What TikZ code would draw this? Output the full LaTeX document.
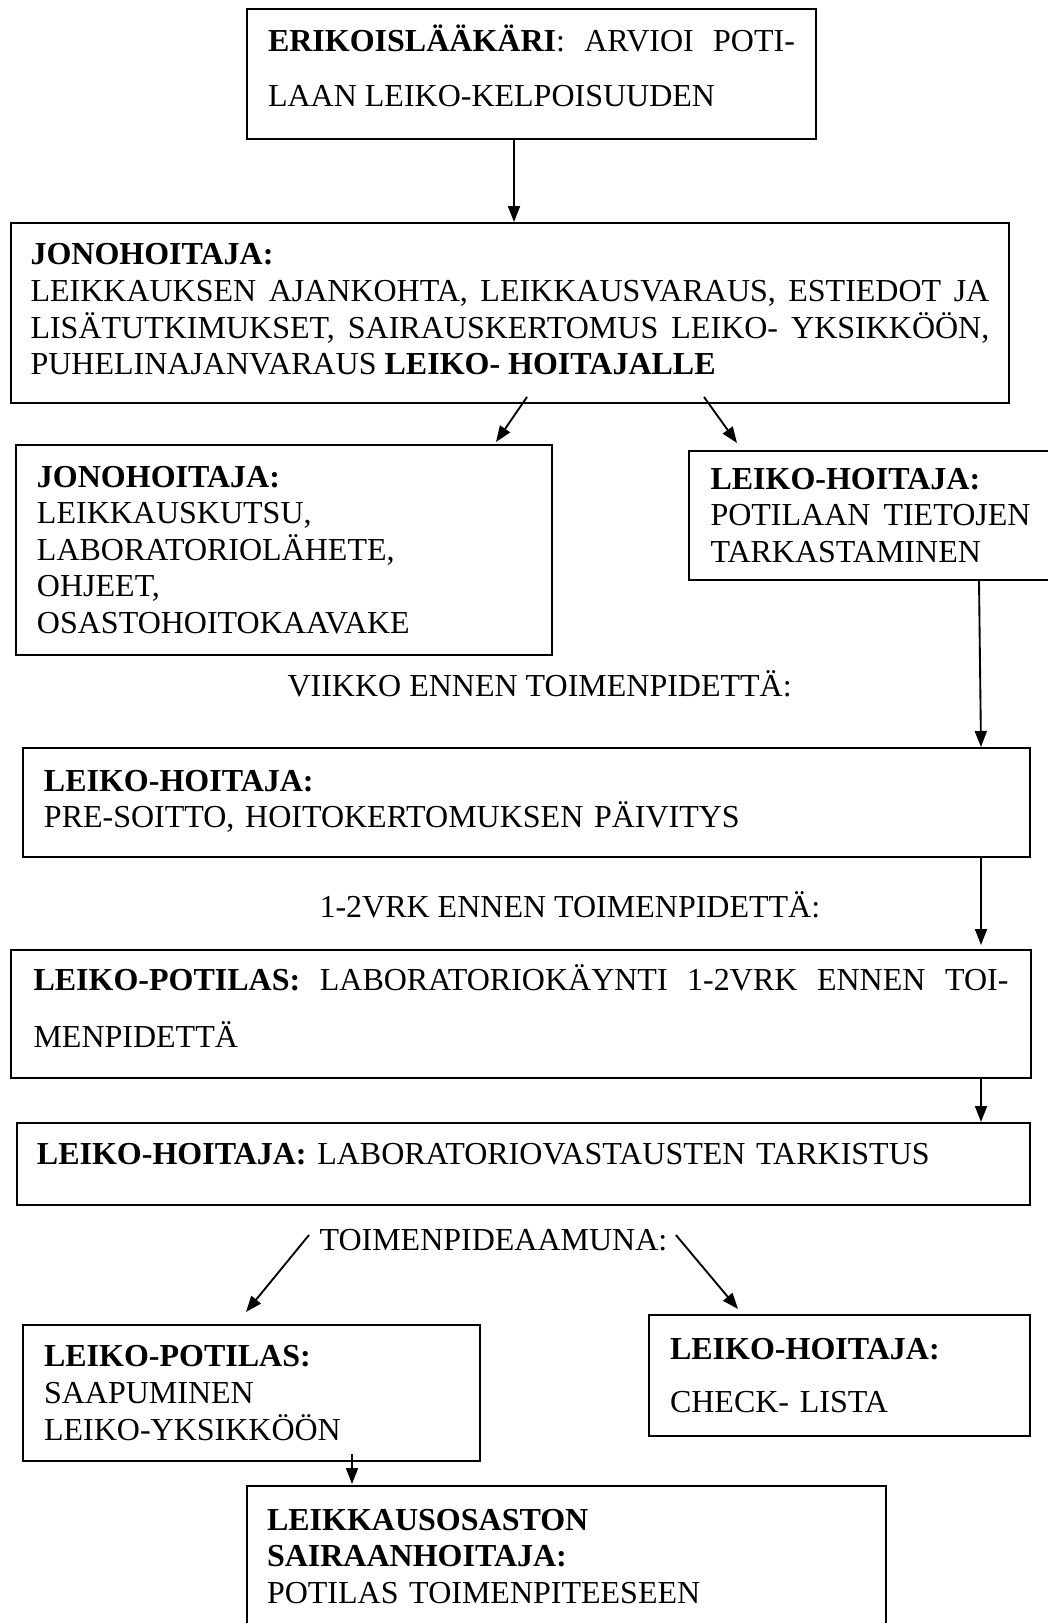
\documentclass[tikz,border=0pt]{standalone}
\usepackage{fontspec}
\setmainfont{Liberation Serif}
\usetikzlibrary{arrows.meta}
\newcommand\bdepth[1]{\rule[-#1]{0pt}{#1}}
\begin{document}
\begin{tikzpicture}[x=0.375pt,y=-0.375pt,
  box/.style 2 args={draw, line width=0.75pt, inner sep=0pt,
    minimum width=#1*0.375pt, minimum height=#2*0.375pt,
    font=\fontsize{12}{13.8}\selectfont},
  arr/.style={line width=0.7pt, -{Triangle[length=6pt,width=4.5pt]}},
  lbl/.style={inner sep=0pt, font=\fontsize{12}{13.8}\selectfont}]
\useasboundingbox (0,0) rectangle (1048,1623);
\clip (0,0) rectangle (1048,1623);

\node[box={569}{130}, text width=197.6pt, align=justify, font=\fontsize{12}{20.6}\selectfont] (b1) at (531.5,74)
  {\textbf{ERIKOISLÄÄKÄRI}: ARVIOI POTI-\linebreak LAAN LEIKO-KELPOISUUDEN\bdepth{6.5pt}};

\node[box={998}{180}, text width=359.6pt, align=justify, font=\fontsize{12}{13.75}\selectfont] (b2) at (510,313)
  {\textbf{JONOHOITAJA:}\\ LEIKKAUKSEN AJANKOHTA, LEIKKAUSVARAUS, ESTIEDOT JA\linebreak LISÄTUTKIMUKSET, SAIRAUSKERTOMUS LEIKO- YKSIKKÖÖN,\linebreak PUHELINAJANVARAUS \textbf{LEIKO- HOITAJALLE}\bdepth{2.9pt}};

\node[box={536}{210}, text width=185.25pt, align=left, font=\fontsize{12}{13.7}\selectfont] (b3) at (284,550)
  {\textbf{JONOHOITAJA:}\\ LEIKKAUSKUTSU,\\ LABORATORIOLÄHETE,\\ OHJEET,\\ OSASTOHOITOKAAVAKE};

\node[box={363}{129}, text width=120pt, align=justify, font=\fontsize{12}{13.7}\selectfont] (b4) at (870.5,515.5)
  {\textbf{LEIKO-HOITAJA:}\\ POTILAAN TIETOJEN\linebreak TARKASTAMINEN};

\node[box={1007}{109}, text width=361.9pt, align=left, font=\fontsize{12}{13.5}\selectfont] (b5) at (526.5,802.5)
  {\textbf{LEIKO-HOITAJA:}\\ PRE-SOITTO, HOITOKERTOMUKSEN PÄIVITYS\bdepth{2.5pt}};

\node[box={1020}{128}, text width=365.6pt, align=justify, font=\fontsize{12}{21.4}\selectfont] (b6) at (521,1014)
  {\textbf{LEIKO-POTILAS:} LABORATORIOKÄYNTI 1-2VRK ENNEN TOI-\linebreak MENPIDETTÄ\bdepth{6pt}};

\node[box={1013}{82}, text width=364.9pt, align=left] (b7) at (523.5,1164)
  {\textbf{LEIKO-HOITAJA:} LABORATORIOVASTAUSTEN TARKISTUS\bdepth{7.5pt}};

\node[box={457}{136}, text width=155.6pt, align=left, font=\fontsize{12}{14}\selectfont] (b8) at (251.5,1393)
  {\textbf{LEIKO-POTILAS:}\\ SAAPUMINEN\\ LEIKO-YKSIKKÖÖN};

\node[box={381}{121}, text width=127.1pt, align=left, font=\fontsize{12}{20}\selectfont] (b9) at (839.5,1375.5)
  {\textbf{LEIKO-HOITAJA:}\\ CHECK- LISTA};

\node[box={639}{141}, text width=224.6pt, align=left] (b10) at (566.5,1556.5)
  {\textbf{LEIKKAUSOSASTON}\\ \textbf{SAIRAANHOITAJA:}\\ POTILAS TOIMENPITEESEEN};

\node[lbl, anchor=base west] (l1) at (287,696) {VIIKKO ENNEN TOIMENPIDETTÄ:};
\node[lbl, anchor=base west] (l2) at (319,917) {1-2VRK ENNEN TOIMENPIDETTÄ:};
\node[lbl, anchor=base west] (l3) at (319,1250) {TOIMENPIDEAAMUNA:};

\draw[arr] ([shift={(268,0)}]b1.south west) -- ([shift={(504,0)}]b2.north west);
\draw[arr] ([shift={(517,-7)}]b2.south west) -- ([shift={(481,-2)}]b3.north west);
\draw[arr] ([shift={(694,-7)}]b2.south west) -- ([shift={(49,-7)}]b4.north west);
\draw[arr] ([shift={(291,0)}]b4.south west) -- ([shift={(-50,0)}]b5.north east);
\draw[arr] ([shift={(-50,0)}]b5.south east) -- ([shift={(-51,-4)}]b6.north east);
\draw[arr] ([shift={(-51,0)}]b6.south east) -- ([shift={(-50,0)}]b7.north east);
\draw[arr] ([shift={(-10,-15)}]l3.base west) -- ([shift={(224,-12)}]b8.north west);
\draw[arr] ([shift={(8,-15)}]l3.base east) -- ([shift={(90,-5)}]b9.north west);
\draw[arr] ([shift={(330,-8)}]b8.south west) -- ([shift={(106,-1)}]b10.north west);
\end{tikzpicture}
\end{document}
